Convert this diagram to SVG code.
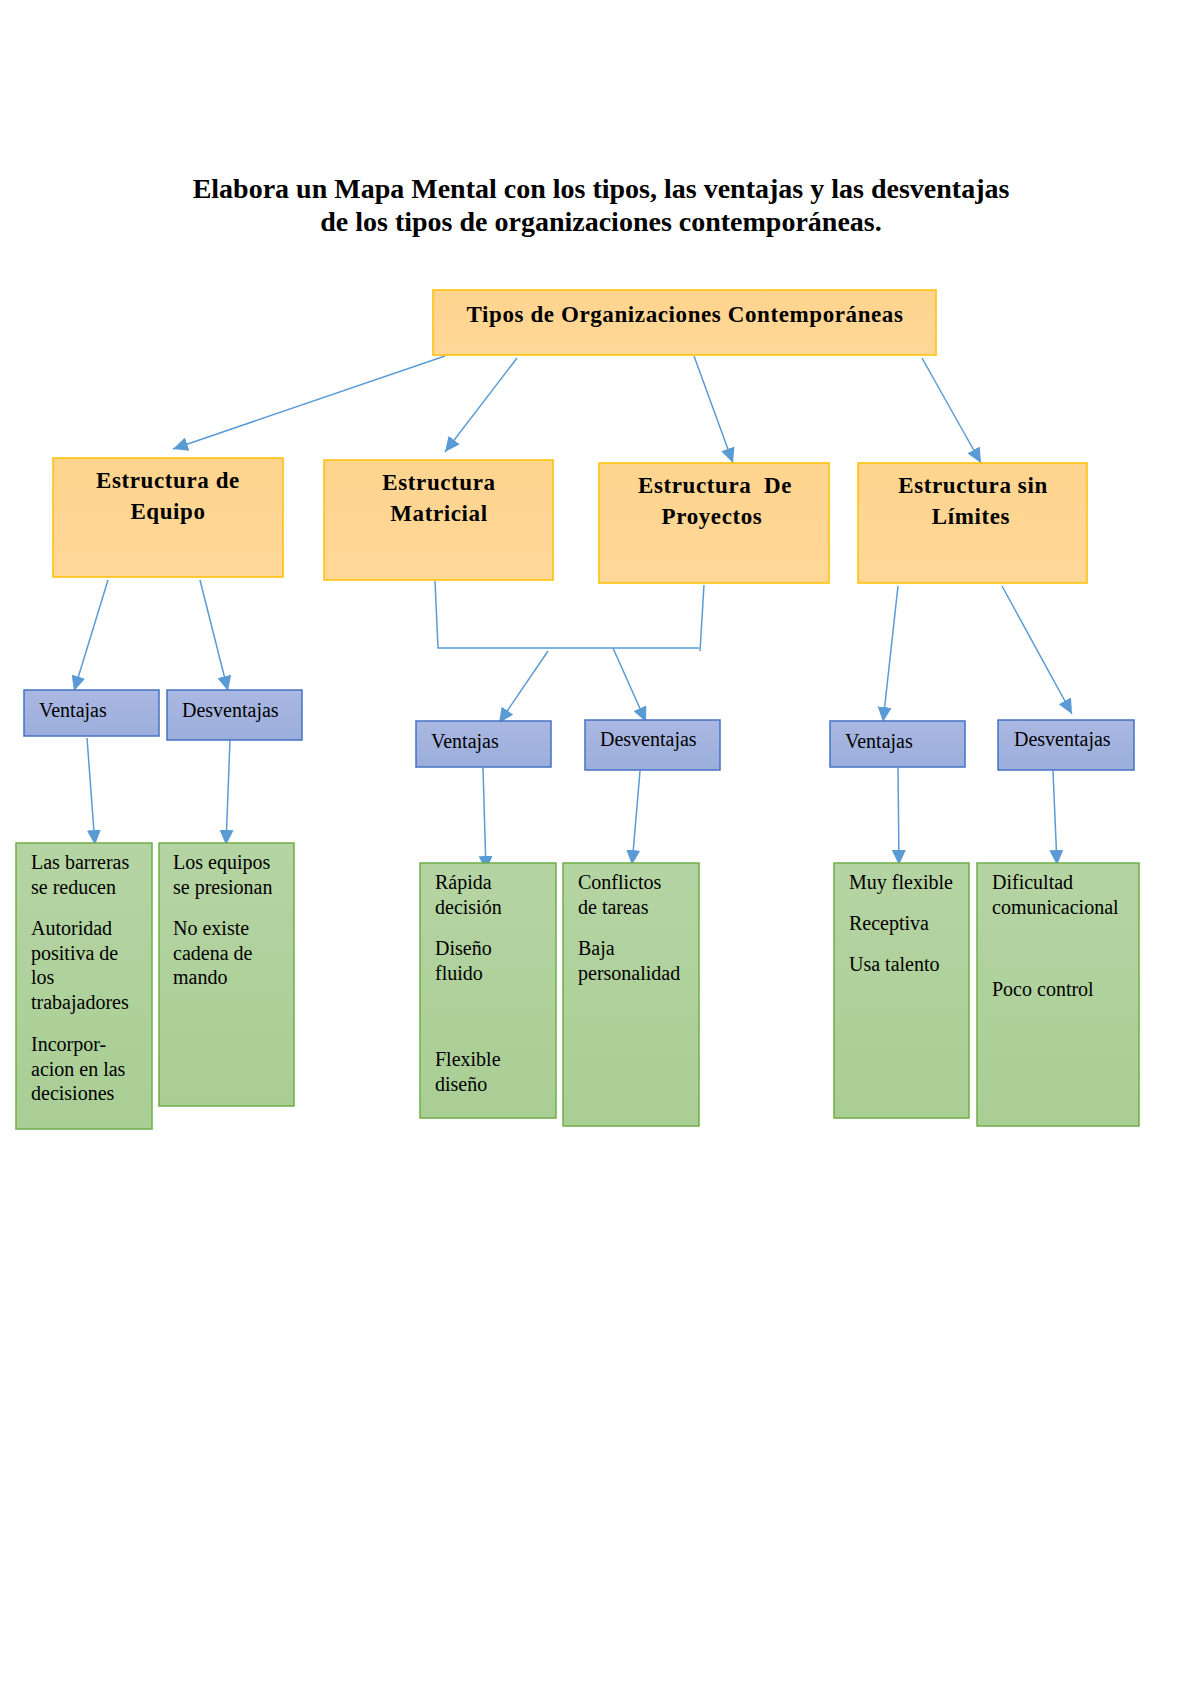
<svg xmlns="http://www.w3.org/2000/svg" width="1200" height="1698" viewBox="0 0 1200 1698">
<defs>
<linearGradient id="gO" x1="0" y1="0" x2="0" y2="1"><stop offset="0" stop-color="#FFD48E"/><stop offset="1" stop-color="#FFD797"/></linearGradient>
<linearGradient id="gB" x1="0" y1="0" x2="0" y2="1"><stop offset="0" stop-color="#AAB8E2"/><stop offset="1" stop-color="#9BAEDB"/></linearGradient>
<linearGradient id="gG" x1="0" y1="0" x2="0" y2="1"><stop offset="0" stop-color="#B5D4A3"/><stop offset="1" stop-color="#A9CE94"/></linearGradient>
<marker id="ar" markerUnits="userSpaceOnUse" markerWidth="16" markerHeight="14" refX="15" refY="7" orient="auto"><path d="M0,0 L15,7 L0,14 z" fill="#5B9BD5"/></marker>
<style>
.o{fill:url(#gO);stroke:#FFC000;stroke-width:1.5}
.b{fill:url(#gB);stroke:#4472C4;stroke-width:1.5}
.g{fill:url(#gG);stroke:#70AD47;stroke-width:1.5}
.t{font-family:"Liberation Serif",serif;font-weight:bold;fill:#000}
.h{font-family:"Liberation Serif",serif;font-weight:bold;font-size:23px;letter-spacing:0.6px;text-anchor:middle;fill:#000}
.n{font-family:"Liberation Serif",serif;font-size:20px;fill:#000}
.c{fill:none;stroke:#5B9BD5;stroke-width:1.5}
.ca{fill:none;stroke:#5B9BD5;stroke-width:1.5;marker-end:url(#ar)}
</style>
</defs>
<rect width="1200" height="1698" fill="#fff"/>
<g id="title">
<text class="t" font-size="28" x="601" y="198" text-anchor="middle">Elabora un Mapa Mental con los tipos, las ventajas y las desventajas</text>
<text class="t" font-size="28" x="601" y="231" text-anchor="middle">de los tipos de organizaciones contemporáneas.</text>
</g>
<g id="connectors">
<line class="ca" x1="445" y1="356" x2="173" y2="449"/>
<line class="ca" x1="517" y1="358" x2="445" y2="452"/>
<line class="ca" x1="694" y1="356" x2="733" y2="463"/>
<line class="ca" x1="922" y1="358" x2="981" y2="463"/>
<line class="ca" x1="108" y1="580" x2="74" y2="691"/>
<line class="ca" x1="200" y1="580" x2="228" y2="691"/>
<polyline class="c" points="435,581 438,648 699,648"/>
<polyline class="c" points="704,585 700,651"/>
<line class="ca" x1="548" y1="651" x2="499" y2="723"/>
<line class="ca" x1="613" y1="648" x2="646" y2="722"/>
<line class="ca" x1="898" y1="586" x2="883" y2="722"/>
<line class="ca" x1="1002" y1="586" x2="1072" y2="714"/>
<line class="ca" x1="87" y1="738" x2="95" y2="845"/>
<line class="ca" x1="230" y1="740" x2="226" y2="845"/>
<line class="ca" x1="483" y1="768" x2="486" y2="871"/>
<line class="ca" x1="640" y1="771" x2="632" y2="865"/>
<line class="ca" x1="898" y1="768" x2="899" y2="865"/>
<line class="ca" x1="1053" y1="771" x2="1057" y2="865"/>
</g>
<g id="root"><rect class="o" x="433" y="290" width="503" height="65"/><text class="h" x="685" y="322">Tipos de Organizaciones Contemporáneas</text></g>
<g id="equipo"><rect class="o" x="53" y="458" width="230" height="119"/><text class="h" x="168" y="488">Estructura de</text><text class="h" x="168" y="519">Equipo</text></g>
<g id="matricial"><rect class="o" x="324" y="460" width="229" height="120"/><text class="h" x="439" y="490">Estructura</text><text class="h" x="439" y="521">Matricial</text></g>
<g id="proyectos"><rect class="o" x="599" y="463" width="230" height="120"/><text class="h" x="715" y="493" xml:space="preserve">Estructura  De</text><text class="h" x="712" y="524">Proyectos</text></g>
<g id="sinlimites"><rect class="o" x="858" y="463" width="229" height="120"/><text class="h" x="973" y="493">Estructura sin</text><text class="h" x="971" y="524">Límites</text></g>
<g id="v1"><rect class="b" x="24" y="690" width="135" height="46"/><text class="n" x="39" y="717">Ventajas</text></g>
<g id="d1"><rect class="b" x="167" y="690" width="135" height="50"/><text class="n" x="182" y="717">Desventajas</text></g>
<g id="v2"><rect class="b" x="416" y="721" width="135" height="46"/><text class="n" x="431" y="748">Ventajas</text></g>
<g id="d2"><rect class="b" x="585" y="720" width="135" height="50"/><text class="n" x="600" y="746">Desventajas</text></g>
<g id="v3"><rect class="b" x="830" y="721" width="135" height="46"/><text class="n" x="845" y="748">Ventajas</text></g>
<g id="d3"><rect class="b" x="998" y="720" width="136" height="50"/><text class="n" x="1014" y="746">Desventajas</text></g>
<g id="g1"><rect class="g" x="16" y="843" width="136" height="286"/>
<text class="n" x="31" y="869">Las barreras</text><text class="n" x="31" y="894">se reducen</text>
<text class="n" x="31" y="935">Autoridad</text><text class="n" x="31" y="960">positiva de</text><text class="n" x="31" y="984">los</text><text class="n" x="31" y="1009">trabajadores</text>
<text class="n" x="31" y="1051">Incorpor-</text><text class="n" x="31" y="1076">acion en las</text><text class="n" x="31" y="1100">decisiones</text></g>
<g id="g2"><rect class="g" x="159" y="843" width="135" height="263"/>
<text class="n" x="173" y="869">Los equipos</text><text class="n" x="173" y="894">se presionan</text>
<text class="n" x="173" y="935">No existe</text><text class="n" x="173" y="960">cadena de</text><text class="n" x="173" y="984">mando</text></g>
<g id="g3"><rect class="g" x="420" y="863" width="136" height="255"/>
<text class="n" x="435" y="889">Rápida</text><text class="n" x="435" y="914">decisión</text>
<text class="n" x="435" y="955">Diseño</text><text class="n" x="435" y="980">fluido</text>
<text class="n" x="435" y="1066">Flexible</text><text class="n" x="435" y="1091">diseño</text></g>
<g id="g4"><rect class="g" x="563" y="863" width="136" height="263"/>
<text class="n" x="578" y="889">Conflictos</text><text class="n" x="578" y="914">de tareas</text>
<text class="n" x="578" y="955">Baja</text><text class="n" x="578" y="980">personalidad</text></g>
<g id="g5"><rect class="g" x="834" y="863" width="135" height="255"/>
<text class="n" x="849" y="889">Muy flexible</text><text class="n" x="849" y="930">Receptiva</text><text class="n" x="849" y="971">Usa talento</text></g>
<g id="g6"><rect class="g" x="977" y="863" width="162" height="263"/>
<text class="n" x="992" y="889">Dificultad</text><text class="n" x="992" y="914">comunicacional</text><text class="n" x="992" y="996">Poco control</text></g>
</svg>
